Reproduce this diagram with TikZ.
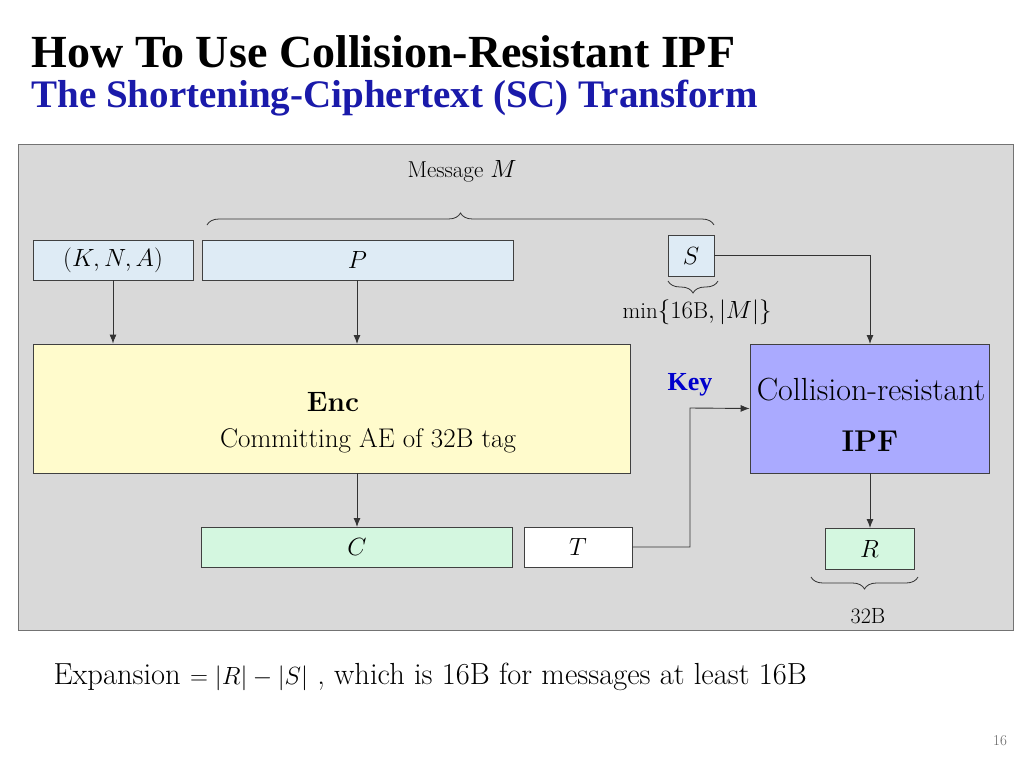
\documentclass[tikz,border=0pt]{standalone}
\usepackage{fontspec}
\usepackage{amsmath}
\newfontfamily\titlefont{Liberation Serif}
\usetikzlibrary{decorations.pathreplacing,arrows.meta}
\definecolor{panel}{HTML}{D9D9D9}
\definecolor{lblue}{HTML}{DEEBF5}
\definecolor{lyellow}{HTML}{FFFBCC}
\definecolor{ipf}{HTML}{AAAAFF}
\definecolor{lgreen}{HTML}{D4F7E0}
\definecolor{tblue}{HTML}{1A1AAA}
\begin{document}
\begin{tikzpicture}[x=1pt,y=-1pt,
  box/.style={draw=black!75,line width=0.8pt},
  arr/.style={draw=black!80,line width=0.9pt,-{Latex[length=9pt,width=7pt]}},
  brc/.style={draw=black!80,line width=0.8pt,decorate,decoration={brace,amplitude=12pt}},
  lab/.style={font=\fontsize{25}{28}\selectfont}]
\useasboundingbox (0,0) rectangle (1024,768);
\fill[white] (0,0) rectangle (1024,768);
\node[anchor=west,font=\titlefont\bfseries\fontsize{46}{50}\selectfont] (title) at (28,52) {How To Use Collision-Resistant IPF};
\node[anchor=west,font=\titlefont\bfseries\fontsize{39}{44}\selectfont,text=tblue] (sub) at (28,98) {The Shortening-Ciphertext (SC) Transform};
\filldraw[fill=panel,draw=black!55,line width=0.8pt] (18,144) rectangle (1013,630);
\node[font=\fontsize{23}{26}\selectfont] (msg) at (462,171) {Message $M$};
\draw[brc] (207,225) -- (714,225);
\node[box,fill=lblue,minimum width=160pt,minimum height=40pt,lab] (kna) at (113,260) {$(K,N,A)$};
\node[box,fill=lblue,minimum width=311pt,minimum height=40pt,lab] (p) at (357.5,260) {$P$};
\node[box,fill=lblue,minimum width=46pt,minimum height=41pt,lab] (s) at (691,255.5) {$S$};
\draw[brc] (718,281) -- (668,281);
\node[font=\fontsize{23}{26}\selectfont] (min) at (697,312) {$\min\{16\mathrm{B},|M|\}$};
\node[box,fill=lyellow,minimum width=597pt,minimum height=129pt] (enc) at (331.5,408.5) {};
\node[font=\bfseries\fontsize{28}{32}\selectfont] (enct) at (333,402) {Enc};
\node[font=\fontsize{27}{30}\selectfont] (encs) at (368,441) {Committing AE of 32B tag};
\node[box,fill=ipf,minimum width=239pt,minimum height=129pt] (ipf) at (869.5,408.5) {};
\node[font=\fontsize{32}{36}\selectfont] (ipft) at (871,390) {Collision-resistant};
\node[font=\bfseries\fontsize{30}{34}\selectfont] (ipfb) at (870,441) {IPF};
\node[font=\titlefont\bfseries\fontsize{26}{30}\selectfont,text=blue!80!black] (key) at (690,385) {Key};
\node[box,fill=lgreen,minimum width=311pt,minimum height=40pt,lab] (c) at (357,547) {$C$};
\node[box,fill=white,minimum width=108pt,minimum height=40pt,lab] (t) at (578,547) {$T$};
\node[box,fill=lgreen,minimum width=89pt,minimum height=41pt,lab] (r) at (869.5,548.5) {$R$};
\draw[brc] (918,577) -- (811,577);
\node[font=\fontsize{22}{26}\selectfont] (b32) at (868,616) {32B};
\draw[arr] (kna.south) -- (kna.south|-enc.north);
\draw[arr] (357,280) -- (357,344);
\draw[arr] (357,473) -- (357,527);
\draw[arr] (s.east) -- (870,255.5) -- (870,344);
\draw[arr] (t.east) -- (690,547) -- (690,408) -- (ipf.west);
\draw[arr] (870,473) -- (870,528);
\node[anchor=west,font=\fontsize{30.5}{34}\selectfont] (exp) at (50,677) {Expansion $=|R|-|S|$ , which is 16B for messages at least 16B};
\node[font=\fontsize{15}{18}\selectfont,text=black!60] (pg) at (1000,741) {16};
\end{tikzpicture}
\end{document}
